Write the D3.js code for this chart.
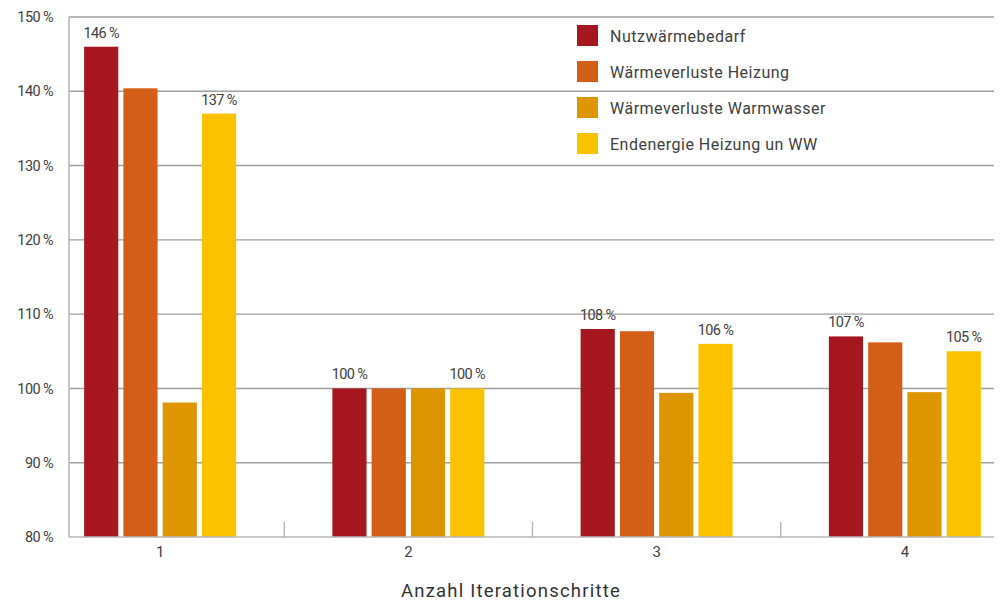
<!DOCTYPE html>
<html>
<head>
<meta charset="utf-8">
<script src="https://cdn.jsdelivr.net/npm/d3@7"></script>
<style>
  html, body { margin: 0; padding: 0; background: #fff; }
  svg { display: block; font-family: Roboto, "Liberation Sans", sans-serif; }
</style>
</head>
<body>
<svg id="chart" width="1000" height="602"></svg>
<script>
// Iteration steps on the x axis
const categories = ["1", "2", "3", "4"];

// Series names (legend order)
const seriesNames = [
  "Nutzwärmebedarf",
  "Wärmeverluste Heizung",
  "Wärmeverluste Warmwasser",
  "Endenergie Heizung un WW"
];

// Values in percent, one array per series, one entry per iteration step
const nutzwaermebedarf   = [146, 100, 108, 107];
const verlusteHeizung    = [140.4, 100, 107.7, 106.2];
const verlusteWarmwasser = [98.1, 100, 99.4, 99.5];
const endenergie         = [137, 100, 106, 105];

// Which bars carry a value label (series index per step)
const labelledSeries = [0, 3];

const yTicks = [80, 90, 100, 110, 120, 130, 140, 150];
const colors = ["#a5161f", "#d35e18", "#de9600", "#fbc200"];

const seriesValues = [nutzwaermebedarf, verlusteHeizung, verlusteWarmwasser, endenergie];

const svg = d3.select("#chart");
const axisX = 69, plotTop = 17, plotBottom = 537, plotRight = 994;

const y = d3.scaleLinear().domain([80, 150]).range([plotBottom, plotTop]);
const x = d3.scaleBand().domain(categories).range([36, 1029]).padding(0);
const xInner = d3.scaleBand().domain(d3.range(seriesNames.length))
  .range([-76, 76]).paddingInner(0.13).paddingOuter(0);

const textColor = "#404040";

// Horizontal gridlines
const grid = svg.append("g");
grid.selectAll("line").data(yTicks.filter(t => t > 80)).join("line")
  .attr("x1", axisX).attr("x2", plotRight)
  .attr("y1", d => y(d)).attr("y2", d => y(d))
  .attr("stroke", "#a0a0a0").attr("stroke-width", 1.4);

// Y axis labels
const yAxis = d3.axisLeft(y).tickValues(yTicks).tickSize(0).tickPadding(16)
  .tickFormat(d => d + " %");
svg.append("g").attr("transform", `translate(${axisX},0)`).call(yAxis)
  .call(g => g.select(".domain").remove())
  .call(g => g.selectAll("text")
    .attr("fill", textColor).attr("font-size", 14.5)
    .attr("letter-spacing", "-0.6px")
    .attr("font-family", "Roboto, sans-serif"));

// Bars
const groups = svg.append("g").selectAll("g").data(categories).join("g")
  .attr("transform", d => `translate(${x(d) + x.bandwidth() / 2},0)`);

groups.selectAll("rect")
  .data((c, ci) => seriesValues.map((vals, si) => ({ si, v: vals[ci] })))
  .join("rect")
  .attr("x", d => xInner(d.si))
  .attr("width", xInner.bandwidth())
  .attr("y", d => y(d.v))
  .attr("height", d => plotBottom - y(d.v))
  .attr("fill", d => colors[d.si]);

// Value labels
groups.selectAll("text.val")
  .data((c, ci) => labelledSeries.map(si => ({ si, v: seriesValues[si][ci] })))
  .join("text").attr("class", "val")
  .attr("x", d => xInner(d.si) + xInner.bandwidth() / 2)
  .attr("y", d => y(d.v) - 9)
  .attr("text-anchor", "middle")
  .attr("font-size", 14.5).attr("letter-spacing", "-0.6px")
  .attr("fill", textColor)
  .text(d => Math.round(d.v) + " %");

// Axis lines
svg.append("line").attr("x1", axisX).attr("x2", axisX).attr("y1", plotTop).attr("y2", plotBottom)
  .attr("stroke", "#b8b8b8").attr("stroke-width", 1.6);
svg.append("line").attr("x1", axisX).attr("x2", plotRight).attr("y1", plotBottom).attr("y2", plotBottom)
  .attr("stroke", "#b8b8b8").attr("stroke-width", 1.6);

// Category separators
svg.append("g").selectAll("line").data(categories.slice(1)).join("line")
  .attr("x1", d => x(d)).attr("x2", d => x(d))
  .attr("y1", plotBottom).attr("y2", plotBottom - 15)
  .attr("stroke", "#b0b0b0").attr("stroke-width", 1.3);

// Category labels
svg.append("g").selectAll("text").data(categories).join("text")
  .attr("x", d => x(d) + x.bandwidth() / 2)
  .attr("y", plotBottom + 20)
  .attr("text-anchor", "middle")
  .attr("font-size", 15).attr("fill", textColor)
  .text(d => d);

// X axis title
svg.append("text")
  .attr("x", 511).attr("y", 597)
  .attr("text-anchor", "middle")
  .attr("font-size", 18.5).attr("fill", "#333")
  .attr("letter-spacing", "1.2px")
  .text("Anzahl Iterationschritte");

// Legend
const legend = svg.append("g").attr("transform", "translate(577,25)");
const items = legend.selectAll("g").data(seriesNames).join("g")
  .attr("transform", (d, i) => `translate(0,${i * 36})`);
items.append("rect").attr("width", 21).attr("height", 21)
  .attr("fill", (d, i) => colors[i]);
items.append("text").attr("x", 33).attr("y", 16.5)
  .attr("font-size", 16).attr("fill", textColor)
  .attr("letter-spacing", "0.5px")
  .text(d => d);
</script>
</body>
</html>
